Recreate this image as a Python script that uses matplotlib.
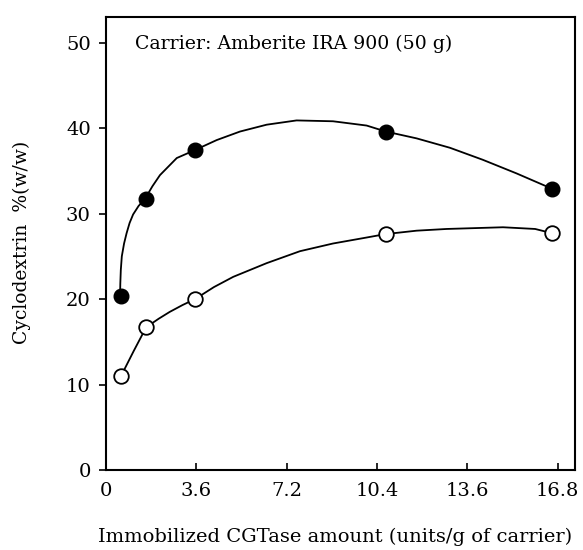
import numpy as np
import matplotlib
matplotlib.use('Agg')
import matplotlib.pyplot as plt

plt.rcParams['font.family'] = ['DejaVu Serif']

# tick labels as printed (equally spaced on the original axis)
xtick_vals = [0, 3.6, 7.2, 10.4, 13.6, 16.8]
ytick_vals = [0, 10, 20, 30, 40, 50]

# measured points
x_pts = [0.6, 1.6, 3.55, 10.7, 16.6]
filled_y = [20.3, 31.7, 37.4, 39.6, 32.9]
open_y = [11.0, 16.7, 20.0, 27.6, 27.7]

# fitted curves
filled_cx = [0.56, 0.57, 0.59, 0.63, 0.72, 0.82, 0.94, 1.08, 1.30, 1.55, 1.85, 2.15,
             2.82, 3.52, 4.41, 5.34, 6.40, 7.55, 8.84, 10.03, 10.71, 11.80, 12.98,
             14.14, 15.34, 16.6]
filled_cy = [20.3, 21.8, 23.4, 25.0, 26.5, 27.7, 28.9, 29.9, 30.9, 31.7, 33.2, 34.5,
             36.5, 37.4, 38.6, 39.6, 40.4, 40.9, 40.8, 40.3, 39.6, 38.8, 37.7,
             36.3, 34.7, 32.9]
open_cx = [0.6, 1.1, 1.6, 2.1, 2.54, 3.05, 3.55, 4.3, 5.07, 6.40, 7.67, 8.84, 10.03,
           10.7, 11.8, 12.86, 14.86, 16.0, 16.6]
open_cy = [11.0, 13.9, 16.7, 17.7, 18.5, 19.3, 20.0, 21.4, 22.6, 24.2, 25.6, 26.5, 27.2,
           27.6, 28.0, 28.2, 28.4, 28.2, 27.7]

# the printed axis puts its labels at equal steps, so map labels -> step index
knot_v = [-3.6, 0, 3.6, 7.2, 10.4, 13.6, 16.8, 20.0, 40.0]
knot_i = [-1, 0, 1, 2, 3, 4, 5, 6, 12.25]


def fwd(v):
    return np.interp(v, knot_v, knot_i)


def inv(i):
    return np.interp(i, knot_i, knot_v)


fig = plt.figure(figsize=(5.83, 5.5), dpi=100)
ax = fig.add_axes([106 / 583, 1 - 470 / 550, (575 - 106) / 583, (470 - 17) / 550])
ax.set_xscale('function', functions=(fwd, inv))

ax.plot(filled_cx, filled_cy, color='black', lw=1.3, zorder=2)
ax.plot(open_cx, open_cy, color='black', lw=1.3, zorder=2)
ax.plot(x_pts, filled_y, 'o', color='black', ms=10.5, zorder=3)
ax.plot(x_pts, open_y, 'o', mfc='white', mec='black', mew=1.3, ms=10.5, zorder=3)

ax.set_xlim(0, 17.41)
ax.set_ylim(0, 53.0)
ax.set_xticks(xtick_vals)
ax.set_xticklabels([('%g' % v) for v in xtick_vals])
ax.set_yticks(ytick_vals)

ax.tick_params(axis='x', direction='in', length=5, width=1.2, labelsize=14, pad=9)
ax.tick_params(axis='y', direction='out', length=5, width=1.2, labelsize=14, pad=6)
for s in ax.spines.values():
    s.set_linewidth(1.5)

ax.text(0.062, 0.94, 'Carrier: Amberite IRA 900 (50 g)', transform=ax.transAxes,
        fontsize=13.6, va='center', ha='left')

fig.text(22 / 583, 1 - 242 / 550, 'Cyclodextrin  %(w/w)', rotation=90,
         fontsize=13.5, ha='center', va='center')
fig.text(335 / 583, 1 - 537 / 550, 'Immobilized CGTase amount (units/g of carrier)',
         fontsize=14, ha='center', va='center')

fig.savefig('out.png', dpi=100)
